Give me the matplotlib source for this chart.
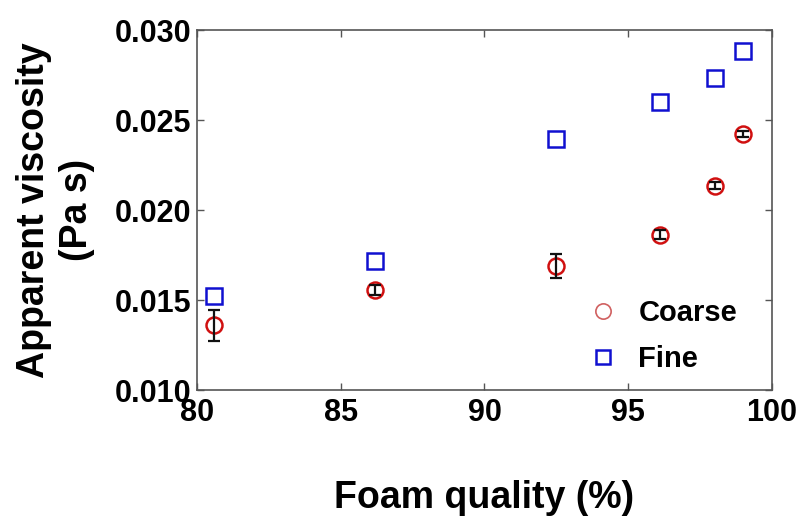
import matplotlib.pyplot as plt
from matplotlib.lines import Line2D
from matplotlib.ticker import FormatStrFormatter

# foam quality (%) and apparent viscosity (Pa s)
quality = [80.6, 86.2, 92.5, 96.1, 98.0, 99.0]
coarse = [0.01360, 0.01554, 0.01688, 0.01862, 0.02136, 0.02422]
coarse_err = [0.00085, 0.00028, 0.00065, 0.00025, 0.00020, 0.00015]
fine = [0.01525, 0.01716, 0.02397, 0.02600, 0.02734, 0.02886]

plt.rcParams['font.family'] = ['Liberation Sans', 'DejaVu Sans']
plt.rcParams['font.weight'] = 'bold'

fig = plt.figure(figsize=(8.02, 5.20), dpi=100)
ax = fig.add_axes([0.2456, 0.25, 0.717, 0.6923])

ax.plot(quality, fine, linestyle='none', marker='s', markersize=11,
        markerfacecolor='none', markeredgecolor='#1010d0', markeredgewidth=1.8, zorder=2)
ax.plot(quality, coarse, linestyle='none', marker='o', markersize=11.5,
        markerfacecolor='none', markeredgecolor='#d01010', markeredgewidth=1.8, zorder=2)
ax.errorbar(quality, coarse, yerr=coarse_err, fmt='none', ecolor='#111111',
            elinewidth=1.6, capsize=4, capthick=1.6, zorder=3)

ax.set_xlim(80, 100)
ax.set_ylim(0.010, 0.030)
ax.set_xticks([80, 85, 90, 95, 100])
ax.set_yticks([0.010, 0.015, 0.020, 0.025, 0.030])
ax.yaxis.set_major_formatter(FormatStrFormatter('%.3f'))
ax.tick_params(direction='in', top=True, right=True, length=5, width=1,
               color='#555555', labelsize=22, pad=4)
ax.tick_params(axis='x', pad=6)
for s in ax.spines.values():
    s.set_color('#555555')
    s.set_linewidth(1.2)

ax.set_xlabel('Foam quality (%)', fontsize=27, fontweight='bold', labelpad=37)
ax.set_ylabel('Apparent viscosity\n(Pa s)', fontsize=27, fontweight='bold',
              labelpad=14, linespacing=1.25)

handles = [Line2D([], [], linestyle='none', marker='o', markersize=11,
                  markerfacecolor='none', markeredgecolor='#d06060', markeredgewidth=1.2),
           Line2D([], [], linestyle='none', marker='s', markersize=10,
                  markerfacecolor='none', markeredgecolor='#1010d0', markeredgewidth=1.8)]
ax.legend(handles, ['Coarse', 'Fine'], loc='lower right', frameon=False,
          fontsize=21, handletextpad=0.2, labelspacing=0.6,
          bbox_to_anchor=(0.985, -0.025))

fig.savefig('out.png', dpi=100)
